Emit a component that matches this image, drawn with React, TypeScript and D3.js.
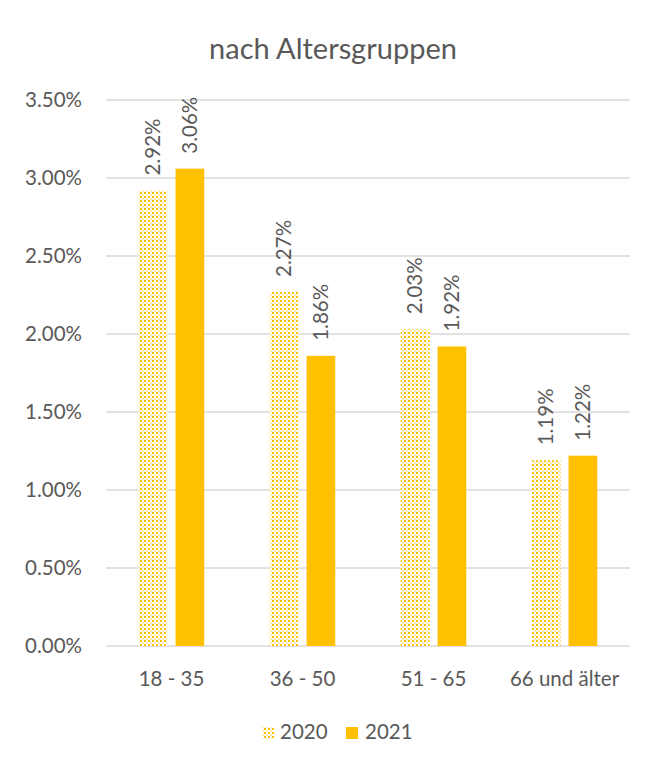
import React from "react";
import * as d3 from "d3";

const categories = ["18 - 35", "36 - 50", "51 - 65", "66 und älter"];
const series2020 = [2.92, 2.27, 2.03, 1.19];
const series2021 = [3.06, 1.86, 1.92, 1.22];
const seriesNames = ["2020", "2021"];
const yTicks = [0, 0.5, 1, 1.5, 2, 2.5, 3, 3.5];

const W = 652;
const H = 762;
const FONT = "Lato, 'Open Sans', sans-serif";
const TEXT = "#595959";
const GOLD = "#FFC000";
const FS = 20.5;

export default function App() {
  const x0 = 106, x1 = 630, yTop = 100, yBot = 646;
  const x = d3.scaleBand().domain(categories).range([x0, x1]).paddingInner(0.5).paddingOuter(0.25);
  const inner = d3.scaleBand().domain(seriesNames).range([0, x.bandwidth()]).paddingInner(0.22);
  const y = d3.scaleLinear().domain([0, 3.5]).range([yBot, yTop]);
  const fmt = (v: number) => v.toFixed(2) + "%";
  const data = [series2020, series2021];

  return (
    <div style={{ margin: -8 }}>
      <svg width={W} height={H} style={{ display: "block", background: "#fff" }}>
        <defs>
          <pattern id="dots" width="4" height="4" patternUnits="userSpaceOnUse">
            <rect width="4" height="4" fill="#fff" />
            <rect x="0" y="0" width="2" height="2" fill={GOLD} />
            <rect x="2" y="2" width="2" height="2" fill="#FFEBB0" />
          </pattern>
        </defs>
        <rect x={6.5} y={7.5} width={W} height={H} fill="#fff" stroke="#d9d9d9" strokeWidth={1} />
        <text x={333} y={59} textAnchor="middle" fontFamily={FONT} fontSize={29} fill={TEXT}>
          nach Altersgruppen
        </text>
        {yTicks.map((t) => (
          <g key={t}>
            <line x1={x0} x2={x1} y1={y(t)} y2={y(t)} stroke="#d9d9d9" strokeWidth={1.3} />
            <text x={82} y={y(t)} dy="0.35em" textAnchor="end" fontFamily={FONT} fontSize={FS} fill={TEXT}>
              {fmt(t)}
            </text>
          </g>
        ))}
        {categories.map((c, i) => (
          <g key={c}>
            {data.map((s, j) => {
              const bx = (x(c) as number) + (inner(seriesNames[j]) as number);
              const bw = inner.bandwidth();
              const top = y(s[i]);
              const cx = bx + bw / 2;
              return (
                <g key={j}>
                  <rect x={bx} y={top} width={bw} height={yBot - top} fill={j === 0 ? "url(#dots)" : GOLD} />
                  <text
                    transform={`translate(${cx},${top - 15}) rotate(-90)`}
                    dy="0.35em"
                    textAnchor="start"
                    fontFamily={FONT}
                    fontSize={FS}
                    fill={TEXT}
                  >
                    {fmt(s[i])}
                  </text>
                </g>
              );
            })}
            <text
              x={(x(c) as number) + x.bandwidth() / 2}
              y={686}
              textAnchor="middle"
              fontFamily={FONT}
              fontSize={FS}
              fill={TEXT}
            >
              {c}
            </text>
          </g>
        ))}
        <g>
          <rect x={262} y={727} width={12} height={12} fill="url(#dots)" />
          <text x={280} y={739} fontFamily={FONT} fontSize={FS} fill={TEXT}>{seriesNames[0]}</text>
          <rect x={346} y={727} width={12} height={12} fill={GOLD} />
          <text x={365} y={739} fontFamily={FONT} fontSize={FS} fill={TEXT}>{seriesNames[1]}</text>
        </g>
      </svg>
    </div>
  );
}
